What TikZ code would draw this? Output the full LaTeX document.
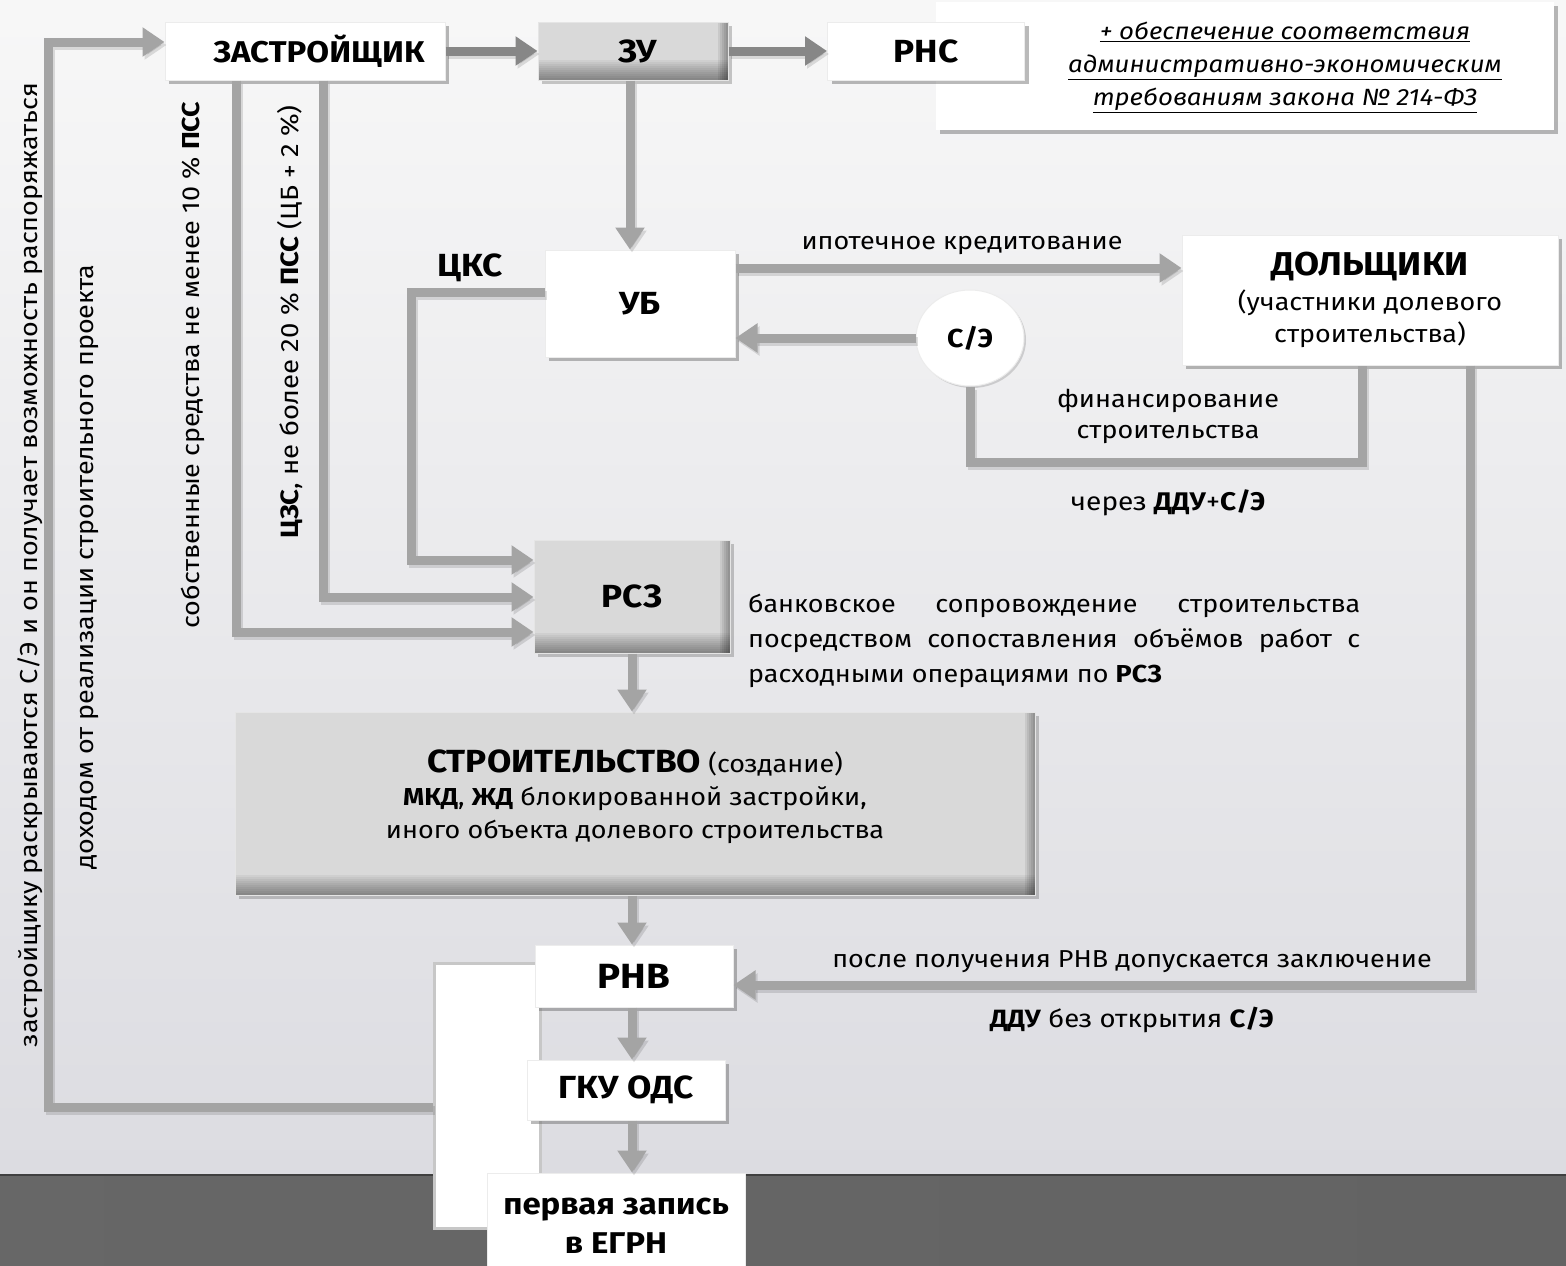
\documentclass[tikz,border=0pt]{standalone}
\usepackage{fontspec}
\setmainfont{Fira Sans}[FakeStretch=1.1]
\usetikzlibrary{arrows.meta,shadows,shapes.geometric,calc}
\definecolor{linegray}{HTML}{A4A4A4}
\definecolor{darkline}{HTML}{878787}
\definecolor{boxgray}{HTML}{D9D9D9}
\definecolor{band}{HTML}{6E6E6E}
\newcommand{\fs}[1]{\fontsize{#1}{1.3\dimexpr#1pt\relax}\selectfont}
\tikzset{
  wbox/.style={draw=white!85!gray, line width=1pt, fill=white, inner sep=0pt,
    drop shadow={shadow xshift=4pt, shadow yshift=-4pt, opacity=0.45, fill=black!60}},
  gbox/.style={draw=white!80!gray, line width=1pt, fill=boxgray, inner sep=0pt,
    path picture={
      \foreach \h in {2,4,...,20}{
        \fill[black, opacity=0.045] (path picture bounding box.south west) rectangle ([yshift=\h pt]path picture bounding box.south east);
      }
      \foreach \w in {2,4,...,10}{
        \fill[black, opacity=0.07] ([xshift=-\w pt]path picture bounding box.south east) rectangle (path picture bounding box.north east);
      }
    },
    drop shadow={shadow xshift=4pt, shadow yshift=-4pt, opacity=0.35, fill=black!60}},
  conn/.style={line width=9pt, draw=linegray,
    preaction={draw=black, opacity=0.12, line width=9pt, transform canvas={shift={(2pt,-3pt)}}}},
  dconn/.style={conn, draw=darkline},
  tip/.style={-{Triangle[width=28pt,length=22pt]}},
  lbl/.style={inner sep=0pt, font=\fs{24.5}, align=center},
  blbl/.style={inner sep=0pt, font=\bfseries\fs{32}, align=center}
}
\begin{document}
\begin{tikzpicture}[x=1pt,y=-1pt]
\useasboundingbox (0,0) rectangle (1566,1266);
% background
\fill[top color=white!97!black, bottom color=black!12!white!98!blue] (0,0) rectangle (1566,1175);
\fill[left color=band!105, right color=band!90!black] (0,1175) rectangle (1566,1266);
\draw[line width=2pt, black!75] (0,1175) -- (1566,1175);

% white bracket area
\node[draw=black!22, line width=3pt, fill=white, minimum width=106, minimum height=265, inner sep=0pt] (wb) at (487,1095.5) {};

% note box (behind РНС)
\node[wbox, draw=none, minimum width=618, minimum height=128, inner sep=0pt] (note) at (1245,66) {};
\node[inner sep=0pt, align=center, font=\itshape\fs{23.5}] (notetext) at (1285,67)
  {\underline{+ обеспечение соответствия}\\[2.5pt]\underline{административно-экономическим}\\[2.5pt]\underline{требованиям закона № 214-ФЗ}};

% boxes
\node[wbox, minimum width=280, minimum height=58] (zastr) at (305,51) {\bfseries\fs{30}\hspace*{28pt}ЗАСТРОЙЩИК};
\node[gbox, minimum width=190, minimum height=58] (zu) at (633,51) {\bfseries\fs{32}\hspace*{10pt}ЗУ};
\node[wbox, minimum width=197, minimum height=58] (rns) at (926,51) {\bfseries\fs{32}РНС};
\node[wbox, minimum width=190, minimum height=107] (ub) at (640,303.5) {\bfseries\fs{32}УБ};
\node[wbox, minimum width=376, minimum height=130, align=center, font=\fs{24.5}] (dol) at (1370,300)
  {{\bfseries\fs{33}ДОЛЬЩИКИ}\\[3pt](участники долевого\\строительства)};
\node[ellipse, fill=white, draw=white!85!gray, line width=1pt, minimum width=108, minimum height=96, inner sep=0pt,
   drop shadow={shadow xshift=2pt, shadow yshift=-2pt, opacity=0.25, fill=black!60}] (se) at (970,338) {\bfseries\fs{26}С/Э};
\node[gbox, minimum width=196, minimum height=113] (rsz) at (632,596.5) {\bfseries\fs{32}РСЗ};
\node[gbox, minimum width=800, minimum height=183] (build) at (635,803.5) {};
\node[inner sep=0pt, align=center, font=\fs{24.5}] (buildtext) at (635,797)
  {{\bfseries\fs{32}СТРОИТЕЛЬСТВО} (создание)\\[1pt]\textbf{МКД}, \textbf{ЖД} блокированной застройки,\\[1pt]иного объекта долевого строительства};
\node[wbox, minimum width=198, minimum height=62] (rnv) at (634,976) {\bfseries\fs{35}РНВ};
\node[wbox, minimum width=198, minimum height=60] (gku) at (626,1090) {\bfseries\fs{32}ГКУ ОДС};
\node[wbox, minimum width=258, minimum height=96] (egrn) at (616,1221) {};
\node[inner sep=0pt, align=center, font=\bfseries\fs{30}] (egrntext) at (616,1226) {первая запись\\в ЕГРН};

% connectors
\draw[dconn, tip] (zastr.east) -- (zu.west);
\draw[dconn, tip] (zu.east) -- (rns.west);
\draw[conn, tip] (zu.south -| 630,0) -- (ub.north -| 630,0);
\draw[conn, tip] (ub.east |- 0,268) -- (dol.west |- 0,268);
\draw[conn, tip] (se.west) -- (ub.east |- se.west);
\draw[conn] (se.south) |- (1362,462) -- (dol.south -| 1362,0);
\draw[conn, tip] (dol.south -| 1470,0) |- (rnv.east |- 0,985);
\draw[conn, tip] (ub.west |- 0,292) -| (411,560) -- (rsz.west |- 0,560);
\draw[conn, tip] (zastr.south -| 323,0) |- (rsz.west |- 0,597);
\draw[conn, tip] (zastr.south -| 236,0) |- (rsz.west |- 0,632);
\draw[conn, tip] (rsz.south -| 632,0) -- (build.north -| 632,0);
\draw[conn, tip] (build.south -| 632,0) -- (rnv.north -| 632,0);
\draw[conn, tip] (rnv.south -| 632,0) -- (gku.north -| 632,0);
\draw[conn, tip] (gku.south -| 632,0) -- (egrn.north -| 632,0);
\draw[conn, tip] (wb.west |- 0,1107) -| (48,42) -- (zastr.west |- 0,42);

% labels
\node[blbl] (lcks) at (470,268) {ЦКС};
\node[lbl] (lipo) at (962,246) {ипотечное кредитование};
\node[lbl] (lfin) at (1168,416) {финансирование\\[-1pt]строительства};
\node[lbl, font=\fs{25.5}] (lddu) at (1168,503) {через \textbf{ДДУ}+\textbf{С/Э}};
\node[lbl] (lafter) at (1132,962) {после получения РНВ допускается заключение};
\node[lbl, font=\fs{25}] (lwo) at (1132,1020) {\textbf{ДДУ} без открытия \textbf{С/Э}};
\node[lbl, align=left, anchor=north west] (lbank) at (748,594)
  {\makebox[612pt][s]{банковское сопровождение строительства}\\[3pt]
   \makebox[612pt][s]{посредством сопоставления объёмов работ с}\\[3pt]
   расходными операциями по \textbf{РСЗ}};
\node[lbl, rotate=90] (lv1) at (30,565) {застройщику раскрываются С/Э и он получает возможность распоряжаться};
\node[lbl, rotate=90] (lv2) at (90,567) {доходом от реализации строительного проекта};
\node[lbl, rotate=90] (lv3) at (193,365) {собственные средства не менее 10 \% \textbf{ПСС}};
\node[lbl, rotate=90, font=\fs{25}] (lv4) at (290,322) {\textbf{ЦЗС}, не более 20 \% \textbf{ПСС} (ЦБ + 2 \%)};
\end{tikzpicture}
\end{document}
